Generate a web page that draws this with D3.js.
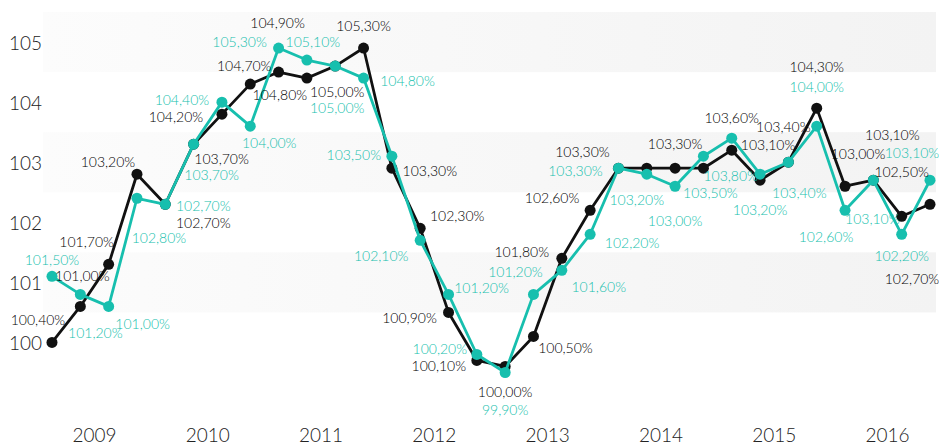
<!DOCTYPE html>
<html>
<head>
<meta charset="utf-8">
<script src="https://cdn.jsdelivr.net/npm/d3@7"></script>
<style>
  html, body { margin: 0; padding: 0; background: #fff; }
  svg { display: block; font-family: Lato, "Open Sans", sans-serif; }
</style>
</head>
<body>
<svg id="chart" width="939" height="446"></svg>
<script>
// ---- data ----
const years = [2009, 2010, 2011, 2012, 2013, 2014, 2015, 2016];
const quarters = ["Q1", "Q2", "Q3", "Q4"];
const periods = years.flatMap(y => quarters.map(q => y + "-" + q));
const seriesBlack = [100.4, 101.0, 101.7, 103.2, 102.7, 103.7, 104.2, 104.7, 104.9, 104.8, 105.0, 105.3,
  103.3, 102.3, 100.9, 100.1, 100.0, 100.5, 101.8, 102.6, 103.3, 103.3, 103.3, 103.3,
  103.6, 103.1, 103.4, 104.3, 103.0, 103.1, 102.5, 102.7];
const seriesTeal = [101.5, 101.2, 101.0, 102.8, 102.7, 103.7, 104.4, 104.0, 105.3, 105.1, 105.0, 104.8,
  103.5, 102.1, 101.2, 100.2, 99.9, 101.2, 101.6, 102.2, 103.3, 103.2, 103.0, 103.5,
  103.8, 103.2, 103.4, 104.0, 102.6, 103.1, 102.2, 103.1];
const yTickLabels = [100, 101, 102, 103, 104, 105];

// label placement offsets (relative to point), null = label hidden
const blackLabelOffsets = [[-14,-23],[2,-31],[-22,-23],[-29,-13],[38,18],[28,14],[-46,2],[-6,-19],[-1,-50],[-27,16],
  [2,25],[0,-23],[38,2],[37,-13],[-39,5],[-38,5],[0,25],[32,11],[-40,-7],[-38,-13],
  [-36,-17],null,[0,-25],null,[0,-33],[8,-36],[-5,-36],[0,-42],[13,-33],[19,-46],[0,-45],[-18,74]];
const tealLabelOffsets = [[0,-17],[15,38],[34,17],[22,39],[38,1],[18,30],[-40,-3],[19,16],[-39,-7],[6,-19],
  [2,41],[44,2],[-38,-2],[-39,15],[33,-7],[-37,-6],[0,37],[-18,-23],[37,16],[42,8],
  [-43,2],[-10,25],[0,34],[7,36],[-1,37],[0,35],[11,30],[0,-40],[-19,26],[-1,38],[0,21],[-18,-28]];

const BLACK = "#111111", TEAL = "#17bfae";

const svg = d3.select("#chart");
const x = d3.scalePoint().domain(periods).range([52, 930]);
const y = d3.scaleLinear().domain([99.9, 105.9]).range([372.5, 12]);
const yAxisScale = d3.scaleLinear().domain([99.5, 105.5]).range([372.5, 12]);

// gradient for bands
const defs = svg.append("defs");
const grad = defs.append("linearGradient").attr("id", "bandGrad").attr("x1", "0").attr("x2", "1").attr("y1", "0").attr("y2", "0");
grad.append("stop").attr("offset", "0%").attr("stop-color", "#fcfcfc");
grad.append("stop").attr("offset", "100%").attr("stop-color", "#f3f3f3");

// bands
const bandStarts = yTickLabels.filter(v => v % 2 === 0).map(v => v + 0.5);
svg.append("g").selectAll("rect").data(bandStarts).join("rect")
  .attr("x", 43).attr("width", 936 - 43)
  .attr("y", d => yAxisScale(d + 1))
  .attr("height", d => yAxisScale(d) - yAxisScale(d + 1))
  .attr("fill", "url(#bandGrad)");

// y axis labels
svg.append("g").selectAll("text").data(yTickLabels).join("text")
  .attr("x", 42).attr("y", d => yAxisScale(d))
  .attr("text-anchor", "end").attr("dominant-baseline", "central")
  .attr("font-size", 19).attr("font-weight", 300).attr("fill", "#222")
  .text(d => d);

// x axis year labels
svg.append("g").selectAll("text").data(years).join("text")
  .attr("x", yr => d3.mean(quarters, q => x(yr + "-" + q)))
  .attr("y", 434)
  .attr("text-anchor", "middle").attr("dominant-baseline", "central")
  .attr("font-size", 19).attr("font-weight", 300).attr("fill", "#222")
  .text(d => d);

const fmt = v => d3.format(".2f")(v).replace(".", ",") + "%";

function drawSeries(values, color) {
  const line = d3.line().x((d, i) => x(periods[i])).y(d => y(d));
  svg.append("path").datum(values).attr("d", line)
    .attr("fill", "none").attr("stroke", color).attr("stroke-width", 2.8).attr("stroke-linejoin", "round");
  svg.append("g").selectAll("circle").data(values).join("circle")
    .attr("cx", (d, i) => x(periods[i])).attr("cy", d => y(d)).attr("r", 5.5).attr("fill", color);
}
function drawLabels(values, offsets, color) {
  svg.append("g").selectAll("text").data(values.map((v, i) => ({ v, i, o: offsets[i] })).filter(d => d.o))
    .join("text")
    .attr("x", d => x(periods[d.i]) + d.o[0])
    .attr("y", d => y(d.v) + d.o[1])
    .attr("text-anchor", "middle").attr("dominant-baseline", "central")
    .attr("font-size", 14).attr("font-weight", 300).attr("fill", color)
    .text(d => fmt(d.v));
}

drawSeries(seriesBlack, BLACK);
drawSeries(seriesTeal, TEAL);
drawLabels(seriesBlack, blackLabelOffsets, "#000");
drawLabels(seriesTeal, tealLabelOffsets, TEAL);
</script>
</body>
</html>
